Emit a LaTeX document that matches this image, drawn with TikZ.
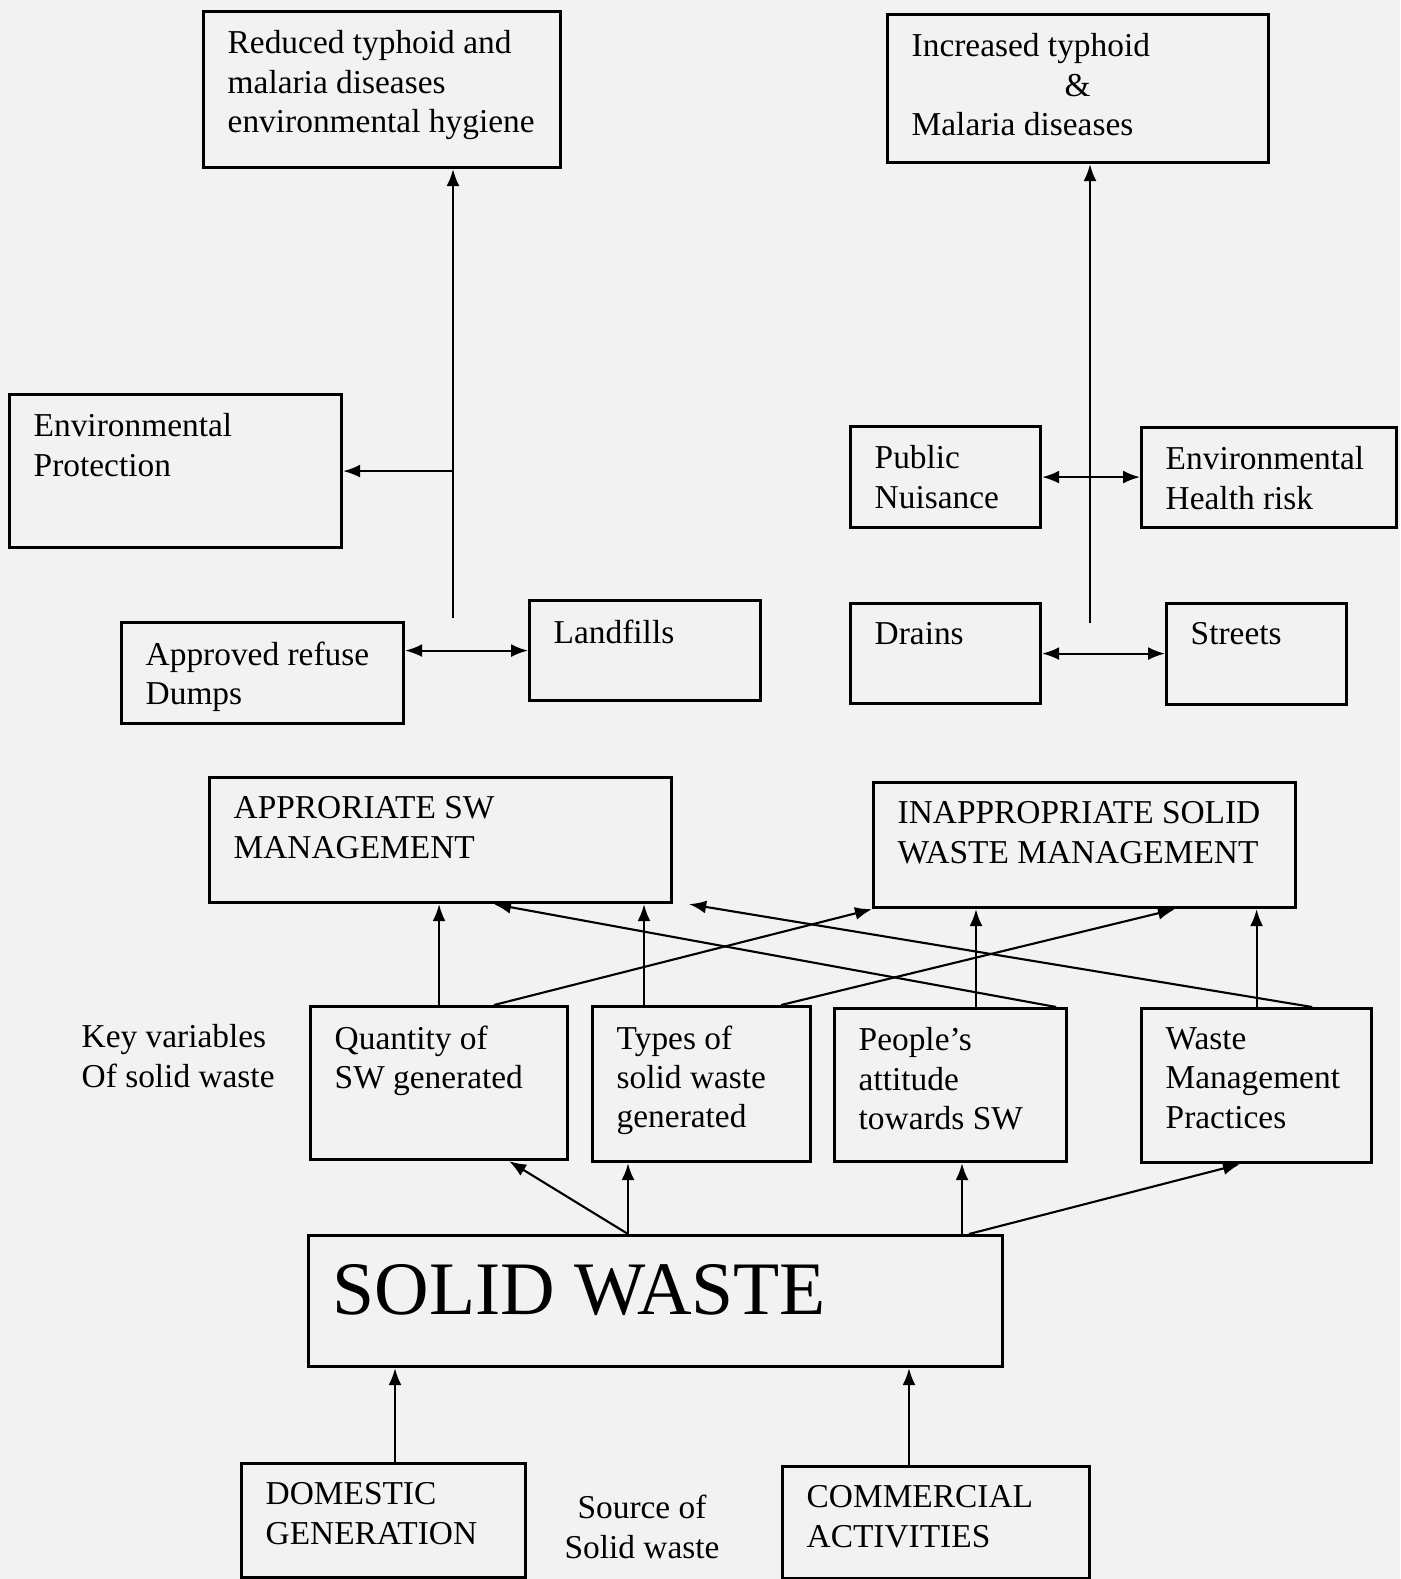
\documentclass[tikz,border=0pt]{standalone}
\usepackage{fontspec}
\setmainfont{Liberation Serif}
\usetikzlibrary{arrows.meta}
\tikzset{
  box/.style={draw, line width=0.9pt, anchor=north west, inner sep=0pt},
  txt/.style={anchor=north west, align=left, inner xsep=0.25cm, inner ysep=0.2cm, font=\fontsize{9.5}{11.2}\selectfont},
  note/.style={inner sep=0pt, font=\fontsize{9.5}{11.2}\selectfont},
  link/.style={line width=0.6pt, -{Latex[length=1.7mm,width=1.3mm]}},
  both/.style={link, {Latex[length=1.7mm,width=1.3mm]}-{Latex[length=1.7mm,width=1.3mm]}}
}
\begin{document}
\begin{tikzpicture}
\fill[black!5] (0,0) rectangle (14,-15.79);
\useasboundingbox (0,0) rectangle (14,-15.79);

\node[box, minimum width=3.57cm, minimum height=1.56cm, label={[txt]north west:Reduced typhoid and\\malaria diseases\\environmental hygiene}] (reduced) at (2.02,-0.10) {};
\node[box, minimum width=3.81cm, minimum height=1.48cm, label={[txt]north west:Increased typhoid\\\hspace*{1.53cm}\&\\Malaria diseases}] (increased) at (8.86,-0.13) {};
\node[box, minimum width=3.32cm, minimum height=1.53cm, label={[txt]north west:Environmental\\Protection}] (envprot) at (0.08,-3.93) {};
\node[box, minimum width=1.90cm, minimum height=1.01cm, label={[txt]north west:Public\\Nuisance}] (nuisance) at (8.49,-4.25) {};
\node[box, minimum width=2.55cm, minimum height=1.00cm, label={[txt]north west:Environmental\\Health risk}] (health) at (11.40,-4.26) {};
\node[box, minimum width=2.82cm, minimum height=1.01cm, label={[txt]north west:Approved refuse\\Dumps}] (dumps) at (1.20,-6.21) {};
\node[box, minimum width=2.31cm, minimum height=1.00cm, label={[txt]north west:Landfills}] (land) at (5.28,-5.99) {};
\node[box, minimum width=1.90cm, minimum height=1.00cm, label={[txt]north west:Drains}] (drains) at (8.49,-6.02) {};
\node[box, minimum width=1.80cm, minimum height=1.01cm, label={[txt]north west:Streets}] (streets) at (11.65,-6.02) {};

\node[box, minimum width=4.62cm, minimum height=1.25cm, label={[txt]north west:APPRORIATE SW\\MANAGEMENT}] (approp) at (2.08,-7.76) {};
\node[box, minimum width=4.22cm, minimum height=1.25cm, label={[txt]north west:INAPPROPRIATE SOLID\\WASTE MANAGEMENT}] (inapprop) at (8.72,-7.81) {};

\node[note, anchor=north west, align=left] (keyvar) at (0.81,-10.24) {Key variables\\Of solid waste};
\node[box, minimum width=2.57cm, minimum height=1.53cm, label={[txt]north west:Quantity of\\SW generated}] (quant) at (3.09,-10.05) {};
\node[box, minimum width=2.18cm, minimum height=1.55cm, label={[txt]north west:Types of\\solid waste\\generated}] (types) at (5.91,-10.05) {};
\node[box, minimum width=2.32cm, minimum height=1.53cm, label={[txt]north west:People’s\\attitude\\towards SW}] (people) at (8.33,-10.07) {};
\node[box, minimum width=2.30cm, minimum height=1.54cm, label={[txt]north west:Waste\\Management\\Practices}] (practices) at (11.40,-10.07) {};

\node[box, minimum width=6.94cm, minimum height=1.31cm, label={[txt, inner ysep=0.3cm, font=\fontsize{21.5}{24}\selectfont]north west:SOLID WASTE}] (solid) at (3.07,-12.34) {};

\node[box, minimum width=2.84cm, minimum height=1.14cm, label={[txt]north west:DOMESTIC\\GENERATION}] (domestic) at (2.40,-14.62) {};
\node[note, align=center] (source) at (6.42,-15.27) {Source of\\Solid waste};
\node[box, minimum width=3.07cm, minimum height=1.12cm, label={[txt]north west:COMMERCIAL\\ACTIVITIES}] (commercial) at (7.81,-14.65) {};

\coordinate (dumpjoin) at (4.53,-6.18);
\draw[link] (dumpjoin) -- (dumpjoin |- reduced.south);
\draw[link] (dumpjoin |- envprot.east) -- (envprot.east);
\draw[both] (dumps.east |- land.west) -- (land.west);

\coordinate (drainjoin) at (10.90,-6.23);
\draw[link] (drainjoin) -- (drainjoin |- increased.south);
\draw[both] (nuisance.east) -- (health.west |- nuisance.east);
\draw[both] (drains.east) -- (streets.west |- drains.east);

\coordinate (typesup) at ([xshift=0.53cm]types.north west);
\coordinate (peopleup) at ([xshift=1.43cm]people.north west);
\draw[link] (quant.north) -- (quant.north |- approp.south);
\draw[link] (typesup) -- (typesup |- approp.south);
\draw[link] (peopleup) -- (peopleup |- inapprop.south);
\draw[link] (practices.north) -- (practices.north |- inapprop.south);
\draw[link] ([xshift=1.85cm]quant.north west) -- (inapprop.south west);
\draw[link] ([xshift=-0.31cm]types.north east) -- ([xshift=3.03cm]inapprop.south west);
\draw[link] ([xshift=-0.12cm]people.north east) -- ([xshift=2.86cm]approp.south west);
\draw[link] ([xshift=-0.61cm]practices.north east) -- ([xshift=0.16cm]approp.south east);

\coordinate (swleft) at ([xshift=3.21cm]solid.north west);
\coordinate (swright) at ([xshift=6.55cm]solid.north west);
\draw[link] (swleft) -- ([xshift=-0.60cm]quant.south east);
\draw[link] (swleft) -- (swleft |- types.south);
\draw[link] (swright) -- (swright |- people.south);
\draw[link] ([xshift=0.07cm]swright) -- ([xshift=1.00cm]practices.south west);

\coordinate (domup) at ([xshift=1.55cm]domestic.north west);
\coordinate (comup) at ([xshift=1.28cm]commercial.north west);
\draw[link] (domup) -- (domup |- solid.south);
\draw[link] (comup) -- (comup |- solid.south);
\end{tikzpicture}
\end{document}
